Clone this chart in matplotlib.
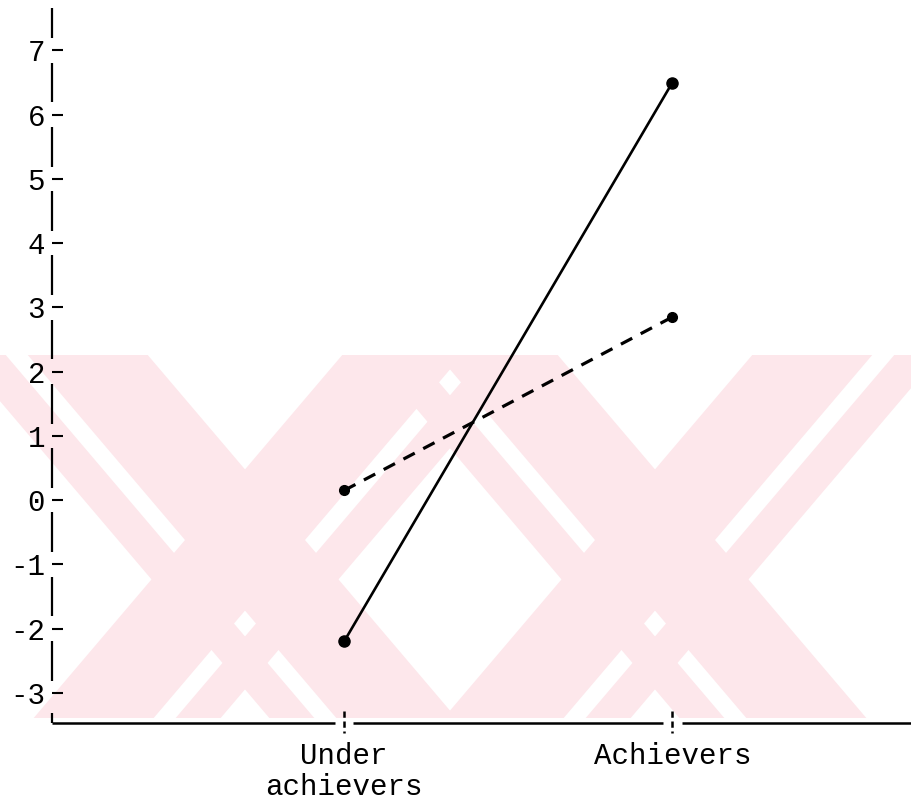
import matplotlib.pyplot as plt
from matplotlib.patches import Polygon

# group means for the two conditions
groups = ["Under\nachievers", "Achievers"]
solid_vals = [-2.2, 6.5]
dashed_vals = [0.15, 2.85]
y_ticks = list(range(-3, 8))

plt.rcParams['font.family'] = ['Liberation Mono', 'DejaVu Sans Mono']
plt.rcParams['axes.unicode_minus'] = False

fig = plt.figure(figsize=(9.12, 8), dpi=100)

# light pink stripes behind the plot
bg = fig.add_axes([0, 0, 1, 1], zorder=0)
bg.set_xlim(0, 912)
bg.set_ylim(800, 0)
bg.axis('off')
pink = '#fde7eb'
top, bot, mid = 355, 718, 540
slope = 0.85
wide, thin, sep = 120, 45, 22


def band(x_mid, w, d):
    # d = +1 runs down to the right, -1 runs down to the left
    xt = x_mid - d * slope * (mid - top)
    xb = x_mid + d * slope * (bot - mid)
    return Polygon([(xt, top), (xt + w, top), (xb + w, bot), (xb, bot)],
                   closed=True, fc=pink, ec='none')


for cx in (245, 655):
    # each stroke of the X is a wide band with a thin band beside it
    bg.add_patch(band(cx - wide / 2, wide, 1))
    bg.add_patch(band(cx - wide / 2 - sep - thin, thin, 1))
    bg.add_patch(band(cx - wide / 2, wide, -1))
    bg.add_patch(band(cx + wide / 2 + sep, thin, -1))

ax = fig.add_axes([52 / 912, 77 / 800, 860 / 912, 715 / 800], zorder=1)
ax.patch.set_alpha(0)
ax.set_xlim(-0.89, 1.73)
ax.set_ylim(-3.47, 7.66)
for s in ax.spines.values():
    s.set_visible(False)

# broken y axis line, interrupted at every tick
ymin, ymax = ax.get_ylim()
gap = 0.19
lows = [ymin] + [t + gap for t in y_ticks]
highs = [y_ticks[0] - 0.31] + [t + 1 - gap for t in y_ticks[:-1]] + [ymax]
ax.vlines([ax.get_xlim()[0]] * len(lows), lows, highs, color='black', lw=1.6, clip_on=False)

# broken x axis line, interrupted at the category ticks
xmin, xmax = ax.get_xlim()
xgap = 0.028
cats = list(range(len(groups)))
xl = [xmin] + [c + xgap for c in cats]
xr = [c - xgap for c in cats] + [xmax]
ax.hlines([ymin] * len(xl), xl, xr, color='black', lw=1.8, clip_on=False)
for c in cats:
    ax.plot([c, c], [0.017, -0.014], color='black', lw=1.8, ls=(0, (2.5, 1.5)),
            transform=ax.get_xaxis_transform(), clip_on=False)

ax.set_yticks(y_ticks)
ax.tick_params(axis='y', direction='in', length=8, width=1.5, pad=5, labelsize=21)
ax.set_xticks(cats, groups)
ax.tick_params(axis='x', length=0, pad=14, labelsize=21)
for lbl in ax.get_xticklabels():
    lbl.set_linespacing(1.12)

ax.plot(cats, solid_vals, color='black', lw=1.9, marker='o', ms=8)
ax.plot(cats, dashed_vals, color='black', lw=2.3, ls=(0, (4, 3)), marker='o', ms=7)

fig.savefig('out.png', dpi=100)
